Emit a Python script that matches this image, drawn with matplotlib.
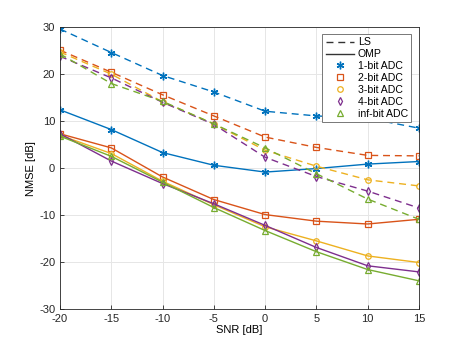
import numpy as np
import matplotlib.pyplot as plt
from matplotlib.lines import Line2D

snr = [-20, -15, -10, -5, 0, 5, 10, 15]

labels = ['1-bit ADC', '2-bit ADC', '3-bit ADC', '4-bit ADC', 'inf-bit ADC']
markers = [(6, 2, 0), 's', 'o', 'd', '^']
colors = ['#0072BD', '#D95319', '#EDB120', '#7E2F8E', '#77AC30']

ls_1bit = [29.6, 24.6, 19.7, 16.2, 12.1, 11.1, 10.6, 8.5]
ls_2bit = [25.1, 20.4, 15.6, 11.1, 6.6, 4.4, 2.7, 2.6]
ls_3bit = [24.7, 20.0, 14.1, 9.4, 3.8, 0.4, -2.5, -3.8]
ls_4bit = [23.8, 19.2, 14.0, 9.3, 2.3, -1.8, -4.9, -8.5]
ls_inf = [24.3, 18.0, 14.2, 9.4, 4.3, -1.2, -6.6, -10.9]

omp_1bit = [12.4, 8.2, 3.3, 0.6, -0.85, -0.1, 0.85, 1.4]
omp_2bit = [7.3, 4.3, -1.9, -6.7, -9.9, -11.3, -11.9, -10.9]
omp_3bit = [7.0, 3.1, -2.8, -7.8, -12.5, -15.5, -18.7, -20.1]
omp_4bit = [7.3, 1.5, -3.3, -7.6, -12.2, -16.9, -20.8, -22.1]
omp_inf = [6.8, 2.5, -3.0, -8.4, -13.3, -17.8, -21.6, -24.0]

ls_all = [ls_1bit, ls_2bit, ls_3bit, ls_4bit, ls_inf]
omp_all = [omp_1bit, omp_2bit, omp_3bit, omp_4bit, omp_inf]

plt.rcParams['font.family'] = 'Liberation Sans'
plt.rcParams['font.size'] = 8
plt.rcParams['axes.unicode_minus'] = False


def mstyle(i):
    star = i == 0
    return dict(marker=markers[i], ms=5.5 if star else 4, mew=1.0 if star else 0.9,
                mfc='none', mec=colors[i])


fig = plt.figure(figsize=(4.63, 3.48), dpi=100)
ax = fig.add_axes([0.1296, 0.112, 0.7754, 0.81])

for i in range(5):
    ax.plot(snr, ls_all[i], '--', color=colors[i], lw=1, dashes=(5, 3.5), **mstyle(i))
    ax.plot(snr, omp_all[i], '-', color=colors[i], lw=1, **mstyle(i))

ax.set_xlim(-20, 15)
ax.set_ylim(-30, 30)
ax.set_xticks(snr)
ax.set_yticks(range(-30, 31, 10))
ax.grid(True, color='#e6e6e6', lw=0.7)
ax.set_axisbelow(True)
for s in ax.spines.values():
    s.set_color('#262626')
    s.set_linewidth(0.6)
ax.tick_params(direction='in', length=3, width=0.6, colors='#262626', pad=3.5)
ax.set_xlabel('SNR [dB]', labelpad=1)
ax.set_ylabel('NMSE [dB]', labelpad=2)

handles = [Line2D([], [], color='#333333', ls='--', lw=1, dashes=(5, 3.5)),
           Line2D([], [], color='#333333', ls='-', lw=1)]
for i in range(5):
    handles.append(Line2D([], [], ls='none', color=colors[i], **mstyle(i)))
leg = ax.legend(handles, ['LS', 'OMP'] + labels, loc='upper right',
                bbox_to_anchor=(0.978, 0.975), fancybox=False, framealpha=1,
                edgecolor='#777777', handlelength=2.7, handletextpad=0.35,
                labelspacing=0.18, borderpad=0.3, borderaxespad=0, fontsize=7.6)
leg.get_frame().set_linewidth(0.7)

fig.savefig('out.png', dpi=100)
